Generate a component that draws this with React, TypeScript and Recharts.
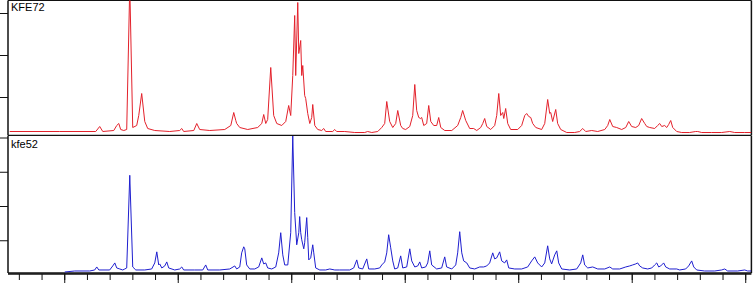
import { LineChart, Line, XAxis, YAxis, ReferenceLine } from "recharts";

// 2-theta (deg) vs. intensity
const KFE72: [number, number][] = [
  [5.15, 4], [9.56, 4], [12.73, 4], [13.08, 9], [13.35, 4], [14.32, 5], [14.58, 10], [14.76, 12],
  [14.93, 6], [15.2, 5], [15.46, 6], [15.73, 150], [15.99, 8], [16.34, 10], [16.52, 20], [16.78, 42],
  [17.05, 14], [17.31, 7], [17.93, 5], [19.25, 4], [20.13, 5], [20.31, 7], [20.48, 4], [21.37, 5],
  [21.63, 12], [21.89, 6], [22.78, 5], [24.1, 6], [24.63, 10], [24.89, 23], [25.07, 15], [25.15, 12],
  [25.42, 8], [26.12, 6], [27.0, 8], [27.36, 12], [27.53, 21], [27.71, 12], [27.88, 16], [28.15, 68],
  [28.41, 20], [28.68, 12], [29.12, 10], [29.47, 14], [29.73, 30], [29.91, 20], [30.09, 60], [30.26, 120],
  [30.35, 60], [30.53, 133], [30.62, 82], [30.79, 95], [30.88, 60], [30.97, 70], [31.14, 40], [31.23, 37],
  [31.41, 22], [31.59, 12], [31.76, 18], [31.85, 31], [32.03, 10], [32.29, 6], [32.64, 5], [32.82, 7],
  [32.99, 4], [33.61, 4], [33.79, 6], [33.96, 4], [34.67, 4], [35.55, 3], [36.43, 3], [36.69, 4],
  [37.05, 3], [37.58, 4], [37.93, 8], [38.19, 12], [38.37, 34], [38.63, 14], [38.9, 8], [39.16, 12],
  [39.34, 25], [39.6, 10], [39.78, 7], [40.04, 6], [40.4, 9], [40.66, 20], [40.84, 51], [41.01, 25],
  [41.19, 18], [41.36, 17], [41.45, 18], [41.63, 10], [41.89, 12], [42.07, 30], [42.25, 14], [42.51, 10],
  [42.77, 10], [42.95, 18], [43.13, 8], [43.48, 5], [44.1, 5], [44.62, 10], [44.89, 18], [45.06, 25],
  [45.33, 15], [45.68, 7], [46.03, 7], [46.3, 5], [46.65, 8], [46.83, 12], [47.0, 17], [47.18, 9],
  [47.53, 6], [47.88, 10], [48.06, 20], [48.24, 42], [48.41, 20], [48.59, 23], [48.68, 17], [48.85, 27],
  [49.03, 12], [49.29, 6], [49.91, 6], [50.26, 10], [50.53, 20], [50.7, 22], [50.88, 19], [51.06, 18],
  [51.23, 12], [51.5, 8], [52.02, 6], [52.29, 12], [52.55, 36], [52.73, 22], [52.82, 23], [52.99, 14],
  [53.26, 26], [53.43, 12], [53.7, 6], [54.23, 3], [54.93, 3], [55.37, 4], [55.64, 7], [55.9, 4],
  [56.43, 5], [56.96, 4], [57.58, 6], [57.84, 10], [58.02, 16], [58.28, 9], [58.63, 8], [59.07, 6],
  [59.43, 8], [59.69, 14], [59.95, 9], [60.31, 8], [60.57, 10], [60.83, 17], [61.1, 12], [61.28, 9],
  [61.54, 8], [61.98, 7], [62.24, 10], [62.42, 12], [62.6, 9], [62.86, 10], [63.04, 8], [63.21, 11],
  [63.39, 15], [63.57, 8], [63.92, 4], [64.36, 3], [65.06, 3], [65.59, 4], [65.77, 4], [66.12, 3],
  [67.0, 3], [67.88, 3], [68.59, 4], [69.03, 3], [69.91, 3], [70.5, 3],
];

const KFE52: [number, number][] = [
  [10.0, 1], [10.88, 2], [12.2, 2], [12.64, 3], [12.82, 6], [13.0, 3], [13.96, 3], [14.23, 7],
  [14.41, 10], [14.58, 5], [14.85, 4], [15.11, 3], [15.29, 4], [15.46, 5], [15.73, 97], [15.99, 6],
  [16.26, 3], [17.05, 3], [17.66, 4], [17.93, 10], [18.11, 21], [18.28, 8], [18.37, 9], [18.55, 5],
  [18.81, 7], [18.99, 11], [19.16, 5], [19.69, 3], [20.13, 4], [20.31, 6], [20.48, 3], [21.45, 3],
  [22.16, 3], [22.42, 8], [22.6, 3], [23.66, 3], [24.54, 4], [24.98, 7], [25.15, 4], [25.42, 6],
  [25.59, 20], [25.77, 26], [25.86, 24], [26.03, 8], [26.3, 4], [26.74, 4], [27.09, 6], [27.36, 15],
  [27.53, 9], [27.71, 10], [27.88, 5], [28.24, 4], [28.59, 6], [28.85, 20], [29.03, 40], [29.21, 18],
  [29.38, 8], [29.65, 8], [29.91, 40], [30.09, 136], [30.26, 60], [30.44, 28], [30.62, 40], [30.7, 56],
  [30.79, 40], [30.88, 33], [31.06, 24], [31.14, 30], [31.32, 55], [31.41, 35], [31.5, 13], [31.67, 15],
  [31.85, 28], [31.94, 20], [32.11, 5], [32.47, 3], [32.99, 3], [33.35, 4], [33.79, 3], [34.23, 3],
  [35.11, 3], [35.46, 5], [35.73, 13], [35.9, 5], [36.25, 4], [36.61, 14], [36.78, 4], [37.31, 4],
  [37.75, 5], [37.93, 8], [38.19, 11], [38.37, 20], [38.54, 38], [38.72, 25], [38.9, 12], [39.07, 4],
  [39.34, 5], [39.6, 17], [39.78, 5], [40.13, 6], [40.4, 24], [40.57, 12], [40.84, 6], [41.1, 7],
  [41.28, 11], [41.45, 5], [41.8, 6], [41.98, 10], [42.16, 22], [42.33, 8], [42.77, 4], [43.21, 5],
  [43.48, 16], [43.65, 6], [44.1, 4], [44.45, 8], [44.62, 20], [44.8, 41], [44.98, 20], [45.15, 12],
  [45.42, 10], [45.68, 5], [46.12, 4], [46.56, 6], [46.91, 6], [47.18, 7], [47.44, 10], [47.71, 20],
  [47.88, 14], [48.06, 15], [48.32, 21], [48.5, 12], [48.76, 10], [48.94, 13], [49.12, 5], [49.65, 4],
  [50.26, 4], [50.79, 6], [51.14, 12], [51.41, 16], [51.67, 10], [52.02, 6], [52.29, 10], [52.55, 27],
  [52.73, 14], [52.9, 9], [53.17, 18], [53.35, 22], [53.52, 10], [53.79, 4], [54.49, 3], [55.11, 4],
  [55.46, 10], [55.64, 18], [55.81, 8], [56.08, 5], [56.52, 6], [56.96, 4], [57.58, 4], [58.02, 6],
  [58.28, 4], [58.9, 4], [59.43, 6], [59.78, 7], [60.04, 8], [60.31, 9], [60.48, 10], [60.66, 7],
  [60.92, 5], [61.36, 4], [61.72, 5], [61.98, 8], [62.16, 10], [62.33, 6], [62.51, 7], [62.77, 10],
  [62.95, 6], [63.3, 4], [63.92, 4], [64.18, 3], [64.71, 4], [64.97, 7], [65.24, 12], [65.42, 6],
  [65.68, 3], [66.38, 2], [67.27, 2], [67.88, 3], [68.15, 4], [68.41, 2], [69.29, 2], [69.91, 3],
  [70.17, 2], [70.5, 2],
];

const X_DOMAIN: [number, number] = [5, 70.5];
const MINOR_TICKS = Array.from({ length: 66 }, (_, i) => 5 + i);
const MAJOR_TICKS = [10, 20, 30, 40, 50, 60, 70];
const TOP_TICKS = [38, 80, 122];
const BOTTOM_TICKS = [32, 66, 100, 134];

const RED = "#e3212b";
const BLUE = "#1f1fcf";
const AXIS = "#111";

const toRows = (pts: [number, number][]) => pts.map(([a, c]) => ({ a, c }));

// no tick labels, but keep the tick lines
const NoLabel = () => <g />;

const labelStyle: React.CSSProperties = {
  position: "absolute",
  left: 11,
  fontFamily: "'Liberation Sans', Arial, sans-serif",
  fontSize: 11,
  lineHeight: "12px",
  color: "#000",
};

export default function App() {
  const top = toRows(KFE72);
  const bottom = toRows(KFE52);
  return (
    <div style={{ position: "absolute", left: 0, top: 0, width: 754, height: 284, background: "#fff" }}>
      <div style={{ position: "absolute", left: 0, top: 0 }}>
        <LineChart width={754} height={136} data={top} margin={{ top: 0.5, right: 2.6, bottom: 0.5, left: 0 }}>
          <XAxis dataKey="a" type="number" domain={X_DOMAIN} allowDataOverflow hide />
          <YAxis
            domain={[0, 135]}
            allowDataOverflow
            ticks={TOP_TICKS}
            width={8}
            tickSize={8}
            tick={NoLabel}
            axisLine={{ stroke: AXIS, strokeWidth: 1.5 }}
            tickLine={{ stroke: AXIS }}
          />
          <ReferenceLine y={135} stroke={AXIS} strokeWidth={1.2} />
          <ReferenceLine y={0} stroke={AXIS} strokeWidth={1.5} />
          <ReferenceLine x={70.5} stroke={AXIS} strokeWidth={1.5} />
          <Line dataKey="c" stroke={RED} strokeWidth={1} dot={false} isAnimationActive={false} />
        </LineChart>
      </div>
      <div style={{ position: "absolute", left: 0, top: 136 }}>
        <LineChart width={754} height={148} data={bottom} margin={{ top: 0, right: 2.6, bottom: 9, left: 0 }}>
          <XAxis
            xAxisId="minor"
            dataKey="a"
            type="number"
            domain={X_DOMAIN}
            allowDataOverflow
            ticks={MINOR_TICKS}
            height={1}
            tickSize={6}
            tick={NoLabel}
            axisLine={{ stroke: AXIS, strokeWidth: 1.5 }}
            tickLine={{ stroke: AXIS }}
          />
          <XAxis
            xAxisId="major"
            dataKey="a"
            type="number"
            domain={X_DOMAIN}
            allowDataOverflow
            ticks={MAJOR_TICKS}
            height={1}
            tickSize={10}
            tick={NoLabel}
            axisLine={false}
            tickLine={{ stroke: AXIS }}
          />
          <YAxis
            domain={[0, 136]}
            allowDataOverflow
            ticks={BOTTOM_TICKS}
            width={8}
            tickSize={8}
            tick={NoLabel}
            axisLine={{ stroke: AXIS, strokeWidth: 1.5 }}
            tickLine={{ stroke: AXIS }}
          />
          <ReferenceLine xAxisId="minor" y={0} stroke={AXIS} strokeWidth={1.5} />
          <ReferenceLine xAxisId="minor" x={70.5} stroke={AXIS} strokeWidth={1.5} />
          <Line xAxisId="minor" dataKey="c" stroke={BLUE} strokeWidth={1} dot={false} isAnimationActive={false} />
        </LineChart>
      </div>
      <div style={{ ...labelStyle, top: 1 }}>KFE72</div>
      <div style={{ ...labelStyle, top: 138 }}>kfe52</div>
    </div>
  );
}
